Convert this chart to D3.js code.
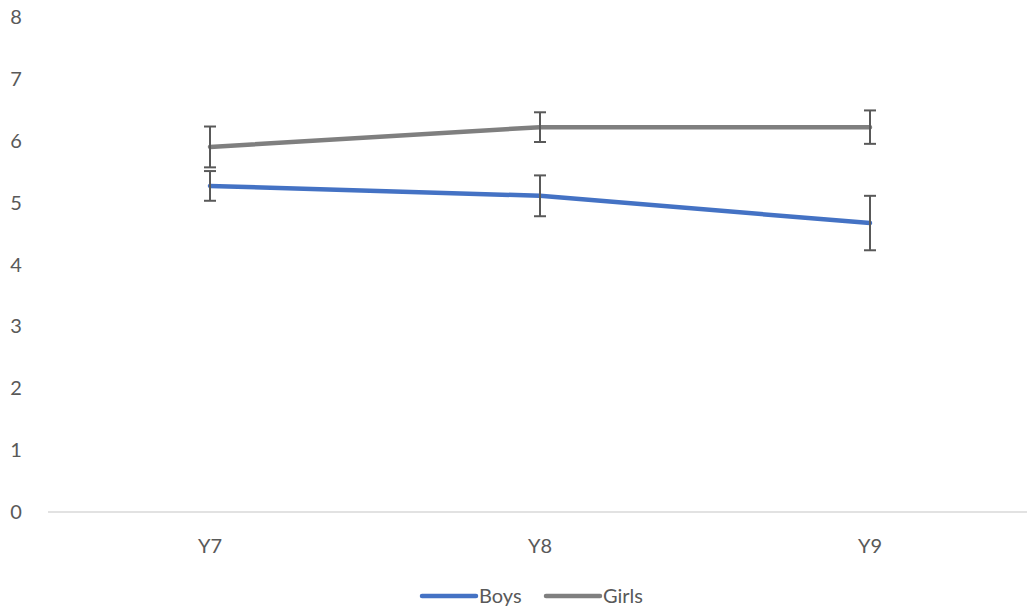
<!DOCTYPE html>
<html>
<head>
<meta charset="utf-8">
<script src="https://cdn.jsdelivr.net/npm/d3@7"></script>
<style>
  body { margin: 0; background: #fff; }
  text { font-family: Lato, "Open Sans", sans-serif; }
</style>
</head>
<body>
<div id="chart"></div>
<script>
// data
var categories = ["Y7", "Y8", "Y9"];
var boys = [5.27, 5.11, 4.67];
var boysErr = [0.24, 0.33, 0.44];
var girls = [5.90, 6.22, 6.22];
var girlsErr = [0.33, 0.24, 0.27];
var yTicks = [0, 1, 2, 3, 4, 5, 6, 7, 8];

var width = 1029, height = 612;

var svg = d3.select("#chart")
  .append("svg")
    .attr("width", width)
    .attr("height", height);

var x = d3.scaleBand()
  .domain(categories)
  .range([45, 1035]);

var y = d3.scaleLinear()
  .domain([0, 8])
  .range([512, 17]);

// y labels (no axis line, no gridlines)
svg.append("g")
  .selectAll("text")
  .data(yTicks)
  .enter()
  .append("text")
    .attr("x", 16)
    .attr("y", d => y(d))
    .attr("dy", "0.35em")
    .attr("text-anchor", "middle")
    .attr("fill", "#595959")
    .style("font-size", "20px")
    .text(d => d);

// x axis line
svg.append("line")
  .attr("x1", 48).attr("x2", 1027)
  .attr("y1", y(0)).attr("y2", y(0))
  .attr("stroke", "#d9d9d9")
  .attr("stroke-width", 1.5);

svg.append("g")
  .selectAll("text")
  .data(categories)
  .enter()
  .append("text")
    .attr("x", d => x(d) + x.bandwidth() / 2)
    .attr("y", 546)
    .attr("dy", "0.35em")
    .attr("text-anchor", "middle")
    .attr("fill", "#595959")
    .style("font-size", "20px")
    .text(d => d);

var series = [
  {name: "Boys", values: boys, err: boysErr, color: "#4472c4"},
  {name: "Girls", values: girls, err: girlsErr, color: "#7f7f7f"}
];

var line = d3.line()
  .x((d, i) => x(categories[i]) + x.bandwidth() / 2)
  .y(d => y(d));

series.forEach(function(s) {
  svg.append("path")
    .datum(s.values)
    .attr("fill", "none")
    .attr("stroke", s.color)
    .attr("stroke-width", 4.5)
    .attr("stroke-linecap", "round")
    .attr("stroke-linejoin", "round")
    .attr("d", line);
});

// error bars
series.forEach(function(s) {
  var g = svg.append("g");
  s.values.forEach(function(v, i) {
    var cx = x(categories[i]) + x.bandwidth() / 2;
    var top = y(v + s.err[i]), bot = y(v - s.err[i]);
    g.append("line")
      .attr("x1", cx).attr("x2", cx)
      .attr("y1", top).attr("y2", bot)
      .attr("stroke", "#595959").attr("stroke-width", 2);
    [top, bot].forEach(function(yy) {
      g.append("line")
        .attr("x1", cx - 6).attr("x2", cx + 6)
        .attr("y1", yy).attr("y2", yy)
        .attr("stroke", "#595959").attr("stroke-width", 2);
    });
  });
});

// legend
var legend = svg.append("g");
var legX = [422, 546];
series.forEach(function(s, i) {
  legend.append("line")
    .attr("x1", legX[i]).attr("x2", legX[i] + 54)
    .attr("y1", 596).attr("y2", 596)
    .attr("stroke", s.color)
    .attr("stroke-width", 4.5)
    .attr("stroke-linecap", "round");
  legend.append("text")
    .attr("x", legX[i] + 57)
    .attr("y", 596)
    .attr("dy", "0.35em")
    .attr("fill", "#595959")
    .style("font-size", "20px")
    .text(s.name);
});
</script>
</body>
</html>
